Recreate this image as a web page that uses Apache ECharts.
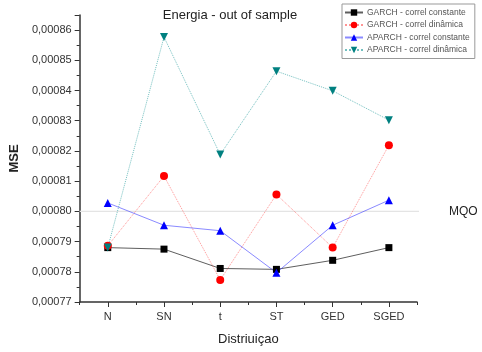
<!DOCTYPE html>
<html>
<head>
<meta charset="utf-8">
<script src="https://cdn.jsdelivr.net/npm/echarts@6/dist/echarts.min.js"></script>
<style>
  html, body { margin: 0; padding: 0; background: #fff; }
  #chart { width: 482px; height: 352px; }
</style>
</head>
<body>
<div id="chart"></div>
<script>
// Distributions on the x axis
const categories = ['N', 'SN', 't', 'ST', 'GED', 'SGED'];

// Out-of-sample MSE per model
const garchConstante = [0.000788, 0.0007875, 0.0007811, 0.0007808, 0.0007838, 0.000788];
const garchDinamica  = [0.0007886, 0.0008117, 0.0007773, 0.0008056, 0.000788, 0.0008219];
const aparchConstante = [0.0008028, 0.0007954, 0.0007936, 0.0007797, 0.0007954, 0.0008037];
const aparchDinamica  = [0.000788, 0.0008577, 0.0008188, 0.0008464, 0.0008399, 0.0008302];

// OLS benchmark level
const mqoLevel = 0.0008;

// y axis range and tick spacing
const yMin = 0.00077;
const yMax = 0.000865;
const yStep = 0.00001;

const font = 'Arial, "Liberation Sans", sans-serif';
const downTriangle = 'path://M0,0L10,0L5,9Z';

function lineSeries(name, data, color, lineColor, lineType, symbol, size) {
  return {
    name: name,
    type: 'line',
    data: data,
    symbol: symbol,
    symbolSize: size,
    itemStyle: { color: color },
    lineStyle: { color: lineColor, width: 1, type: lineType },
    emphasis: { disabled: true },
    z: 3
  };
}

const chart = echarts.init(document.getElementById('chart'), null, { renderer: 'canvas' });

const series = [
  lineSeries('GARCH - correl constante', garchConstante, '#000000', 'rgba(40,40,40,0.75)', 'solid', 'rect', 7),
  lineSeries('GARCH - correl dinâmica', garchDinamica, '#ff0000', 'rgba(255,60,60,0.55)', 'dotted', 'circle', 8),
  lineSeries('APARCH - correl constante', aparchConstante, '#0000ff', 'rgba(60,60,255,0.6)', 'solid', 'triangle', 8),
  lineSeries('APARCH - correl dinâmica', aparchDinamica, '#008080', 'rgba(0,140,140,0.55)', 'dotted', downTriangle, 8)
];

// Horizontal benchmark line across the plot, slightly past its right edge
series.push({
  name: 'MQO',
  type: 'line',
  xAxisIndex: 2,
  data: [[0, mqoLevel], [1.024, mqoLevel]],
  symbol: 'none',
  clip: false,
  silent: true,
  lineStyle: { color: '#e4e4e4', width: 1.2, type: 'solid' },
  endLabel: {
    show: true,
    formatter: 'MQO',
    distance: 30,
    color: '#222',
    fontFamily: font,
    fontSize: 12
  },
  z: 1
});

chart.setOption({
  animation: false,
  backgroundColor: '#ffffff',
  title: {
    text: 'Energia - out of sample',
    left: 225,
    textAlign: 'center',
    top: 4,
    textStyle: { fontFamily: font, fontSize: 13, fontWeight: 'normal', color: '#222' }
  },
  legend: {
    orient: 'vertical',
    left: 342,
    top: 4,
    padding: [4, 5, 4, 2],
    itemGap: 3.5,
    itemWidth: 18,
    itemHeight: 8,
    borderColor: '#999',
    borderWidth: 1,
    borderRadius: 0,
    textStyle: { fontFamily: font, fontSize: 8.5, color: '#555', padding: [0, 0, 0, -1] },
    data: series.slice(0, 4).map(s => s.name)
  },
  grid: { left: 77, right: 65, top: 15, bottom: 50, containLabel: false },
  xAxis: [
    {
      type: 'category',
      data: categories,
      boundaryGap: true,
      name: 'Distriuiçao',
      nameLocation: 'middle',
      nameGap: 31,
      nameTextStyle: { fontFamily: font, fontSize: 13, color: '#222' },
      axisLine: { lineStyle: { color: '#333', width: 1.5 } },
      axisTick: { show: true, alignWithLabel: true, length: 5, lineStyle: { color: '#333' } },
      axisLabel: { fontFamily: font, fontSize: 11, color: '#333', margin: 9 },
      splitLine: { show: false }
    },
    {
      type: 'category',
      data: categories,
      boundaryGap: true,
      position: 'bottom',
      axisLine: { show: false },
      axisTick: { show: true, length: 3, lineStyle: { color: '#333' } },
      axisLabel: { show: false },
      splitLine: { show: false }
    },
    {
      type: 'value',
      min: 0,
      max: 1,
      show: false
    }
  ],
  yAxis: {
    type: 'value',
    min: yMin,
    max: yMax,
    interval: yStep,
    name: 'MSE',
    nameLocation: 'middle',
    nameGap: 53,
    nameTextStyle: { fontFamily: font, fontSize: 13, fontWeight: 'bold', color: '#222' },
    axisLine: { show: true, lineStyle: { color: '#333', width: 1.5 } },
    axisTick: { show: true, length: 5, lineStyle: { color: '#333' } },
    minorTick: { show: true, splitNumber: 2, length: 3, lineStyle: { color: '#333' } },
    axisLabel: {
      fontFamily: font,
      fontSize: 11,
      color: '#333',
      margin: 8,
      formatter: function (v) {
        const k = Math.round(v / yStep);
        if (Math.abs(v - k * yStep) > 1e-9) return '';
        return (k * yStep).toFixed(5).replace('.', ',');
      }
    },
    splitLine: { show: false }
  },
  series: series
});
</script>
</body>
</html>
